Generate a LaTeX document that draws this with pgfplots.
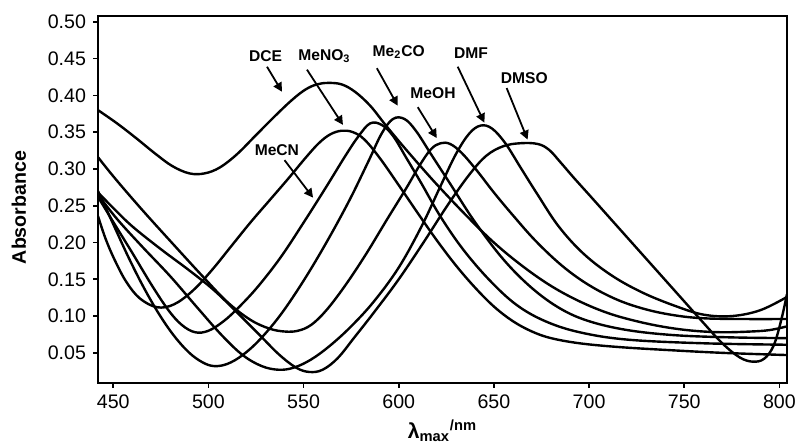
\documentclass[border=0pt]{standalone}
\usepackage{fontspec}
\setmainfont{Liberation Sans}
\usepackage{pgfplots}
\pgfplotsset{compat=1.18}
\usetikzlibrary{arrows.meta}

\begin{document}
\begin{tikzpicture}
\begin{axis}[
    at={(0,0)}, anchor=south west,
    scale only axis,
    width=344.5pt, height=183.5pt,
    xmin=442, xmax=804,
    ymin=0.009, ymax=0.508,
    xtick={450,500,...,800},
    ytick={0.05,0.10,...,0.50},
    tick align=outside,
    xtick pos=left, ytick pos=left,
    major tick length=2.5pt,
    axis line style={line width=0.8pt},
    tick style={line width=0.8pt, black},
    ticklabel style={font=\fontsize{9.8}{10}\selectfont},
    /pgf/number format/assume math mode=true,
    yticklabel style={/pgf/number format/.cd, fixed, fixed zerofill, precision=2},
    xticklabel style={/pgf/number format/.cd, fixed, precision=0, 1000 sep={}},
    ylabel={\bfseries Absorbance},
    ylabel style={font=\fontsize{9.8}{10}\selectfont, xshift=-4pt},
    ylabel shift=4pt,
    xlabel={\bfseries λ\textsubscript{max}\textsuperscript{/nm}},
    xlabel style={font=\fontsize{10.5}{11}\selectfont},
    xlabel shift=-1.5pt,
    spec/.style={black, no markers, line width=1.2pt, smooth, tension=0.6},
]
% DCE
\addplot[spec] coordinates {(442,0.380) (452,0.362) (462,0.342) (472,0.321) (481,0.304) (490,0.294) (498,0.294) (506,0.302) (515,0.320) (525,0.346) (535,0.372) (544,0.394) (551,0.408) (557,0.415) (563,0.417) (570,0.415) (577,0.405) (585,0.386) (593,0.360) (601,0.335) (610,0.308) (620,0.279) (635,0.238) (650,0.200) (665,0.168) (680,0.141) (695,0.120) (710,0.104) (725,0.093) (740,0.085) (755,0.080) (770,0.078) (785,0.079) (795,0.081) (804,0.086)};
% MeNO3
\addplot[spec] coordinates {(442,0.236) (446,0.205) (451,0.175) (457,0.146) (464,0.124) (473,0.112) (482,0.116) (492,0.135) (502,0.163) (512,0.195) (522,0.227) (532,0.257) (542,0.287) (551,0.315) (558,0.335) (564,0.347) (570,0.352) (576,0.350) (582,0.340) (590,0.315) (600,0.278) (610,0.240) (620,0.203) (630,0.169) (640,0.139) (650,0.113) (660,0.093) (670,0.079) (680,0.070) (695,0.063) (715,0.058) (740,0.054) (770,0.050) (804,0.047)};
% MeCN
\addplot[spec] coordinates {(442,0.262) (450,0.228) (460,0.186) (470,0.143) (479,0.108) (486,0.088) (493,0.078) (500,0.080) (508,0.093) (516,0.112) (526,0.140) (538,0.180) (550,0.227) (562,0.276) (572,0.318) (579,0.345) (585,0.362) (591,0.360) (597,0.345) (604,0.315) (612,0.280) (622,0.235) (634,0.190) (648,0.148) (662,0.115) (677,0.093) (695,0.078) (720,0.068) (760,0.063) (804,0.061)};
% Me2CO
\addplot[spec] coordinates {(442,0.270) (450,0.225) (458,0.180) (466,0.139) (474,0.103) (482,0.073) (490,0.050) (497,0.037) (503,0.032) (510,0.035) (518,0.047) (527,0.068) (538,0.102) (550,0.148) (562,0.200) (574,0.257) (584,0.310) (591,0.348) (597,0.368) (603,0.368) (609,0.352) (617,0.320) (627,0.280) (640,0.228) (655,0.177) (670,0.138) (685,0.110) (700,0.093) (720,0.081) (745,0.074) (775,0.071) (804,0.070)};
% MeOH
\addplot[spec] coordinates {(442,0.316) (451,0.287) (465,0.245) (480,0.202) (497,0.154) (510,0.119) (522,0.095) (532,0.083) (540,0.079) (547,0.080) (554,0.088) (562,0.108) (572,0.142) (583,0.185) (594,0.232) (604,0.274) (611,0.305) (617,0.327) (622,0.335) (627,0.334) (633,0.322) (641,0.298) (650,0.268) (660,0.237) (672,0.202) (686,0.168) (700,0.142) (715,0.122) (730,0.109) (745,0.101) (760,0.097) (780,0.096) (804,0.096)};
% DMF
\addplot[spec] coordinates {(442,0.265) (452,0.232) (465,0.195) (480,0.154) (494,0.112) (507,0.074) (518,0.047) (528,0.032) (537,0.027) (545,0.030) (554,0.041) (564,0.060) (575,0.086) (587,0.120) (600,0.166) (612,0.222) (622,0.277) (630,0.320) (637,0.348) (643,0.359) (649,0.355) (656,0.335) (664,0.302) (673,0.265) (684,0.222) (697,0.185) (712,0.155) (728,0.132) (745,0.114) (760,0.102) (775,0.100) (790,0.108) (804,0.126)};
% DMSO
\addplot[spec] coordinates {(442,0.268) (450,0.247) (460,0.222) (475,0.191) (490,0.162) (503,0.135) (515,0.105) (527,0.074) (537,0.048) (546,0.030) (553,0.024) (560,0.027) (568,0.043) (577,0.072) (587,0.105) (600,0.150) (613,0.200) (626,0.252) (637,0.292) (646,0.318) (655,0.331) (664,0.335) (673,0.334) (679,0.326) (685,0.309) (692,0.288) (700,0.265) (710,0.236) (720,0.207) (730,0.178) (740,0.149) (750,0.120) (760,0.091) (770,0.063) (779,0.044) (786,0.038) (792,0.042) (797,0.060) (801,0.095) (804,0.130)};

\begin{scope}[font=\fontsize{7.8}{8}\selectfont\bfseries, -{Triangle[length=4.5pt,width=4.5pt]}, line width=0.9pt]
\node at (axis cs:530,0.454) {DCE};
\draw (axis cs:530.8,0.439) -- (axis cs:538.7,0.405);
\node at (axis cs:561,0.454) {MeNO\textsubscript{3}};
\draw (axis cs:551.8,0.435) -- (axis cs:570.7,0.360);
\node at (axis cs:600,0.459) {Me\textsubscript{2}CO};
\draw (axis cs:588.5,0.437) -- (axis cs:599.5,0.386);
\node at (axis cs:618,0.403) {MeOH};
\draw (axis cs:610,0.384) -- (axis cs:620,0.342);
\node at (axis cs:638,0.458) {DMF};
\draw (axis cs:631,0.439) -- (axis cs:645,0.363);
\node at (axis cs:666,0.424) {DMSO};
\draw (axis cs:656.7,0.410) -- (axis cs:667.7,0.340);
\node at (axis cs:536,0.326) {MeCN};
\draw (axis cs:540,0.312) -- (axis cs:555,0.261);
\end{scope}
\end{axis}
\pgfresetboundingbox
\useasboundingbox (-49pt,-32.5pt) rectangle (349.5pt,191.5pt);
\end{tikzpicture}
\end{document}
